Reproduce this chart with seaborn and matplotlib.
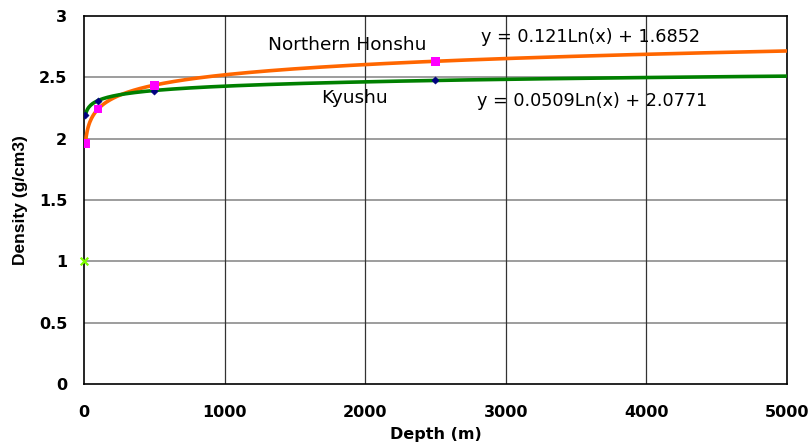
"""
Density versus depth for Northern Honshu and Kyushu with logarithmic trendlines
"""

import numpy as np
import pandas as pd
import matplotlib
matplotlib.use("Agg")
import matplotlib.pyplot as plt
import seaborn as sns

depth = [10, 100, 500, 2500]
honshu_density = [1.964, 2.242, 2.437, 2.632]
kyushu_density = [2.194, 2.311, 2.393, 2.475]

# Water point at the surface
water_depth = [0]
water_density = [1.0]

# Trendline coefficients y = a*Ln(x) + b, as printed on the chart
honshu_a, honshu_b = 0.121, 1.6852
kyushu_a, kyushu_b = 0.0509, 2.0771

x_ticks = [0, 1000, 2000, 3000, 4000, 5000]
y_ticks = [0, 0.5, 1, 1.5, 2, 2.5, 3]


def main():
    sns.set_style("white")
    plt.rcParams["font.family"] = ["DejaVu Sans"]
    plt.rcParams["text.color"] = "black"
    plt.rcParams["axes.labelcolor"] = "black"
    plt.rcParams["xtick.color"] = "black"
    plt.rcParams["ytick.color"] = "black"

    fig = plt.figure(figsize=(8.11, 4.48), dpi=100)
    ax = fig.add_axes([0.1036, 0.143, 0.8665, 0.821])

    # Trendlines from the min depth out to the axis end
    x_fit = np.linspace(depth[0], 5000, 800)
    trend = pd.DataFrame({
        "x": np.concatenate([x_fit, x_fit]),
        "y": np.concatenate([honshu_a * np.log(x_fit) + honshu_b,
                             kyushu_a * np.log(x_fit) + kyushu_b]),
        "site": ["Northern Honshu"] * len(x_fit) + ["Kyushu"] * len(x_fit),
    })
    sns.lineplot(data=trend, x="x", y="y", hue="site",
                 palette={"Northern Honshu": "#FF6600", "Kyushu": "#008000"},
                 linewidth=2.6, legend=False, ax=ax, zorder=3)

    # Data points
    sns.scatterplot(x=depth, y=kyushu_density, marker="D", s=14,
                    color="#000080", edgecolor="#000080", ax=ax, zorder=4)
    sns.scatterplot(x=depth, y=honshu_density, marker="s", s=40,
                    color="#FF00FF", edgecolor="none", ax=ax, zorder=5)
    sns.scatterplot(x=water_depth, y=water_density, marker="x", s=30,
                    color="#7FFF00", linewidth=1.6, ax=ax, zorder=5, clip_on=False)

    ax.set_xlim(0, 5000)
    ax.set_ylim(0, 3)
    ax.set_xticks(x_ticks)
    ax.set_yticks(y_ticks)
    ax.set_xticklabels([str(t) for t in x_ticks])
    ax.set_yticklabels([f"{t:g}" for t in y_ticks])
    ax.tick_params(axis="x", length=0, labelsize=11.5, pad=15)
    ax.tick_params(axis="y", length=0, labelsize=11.5, pad=12)
    for lab in ax.get_xticklabels() + ax.get_yticklabels():
        lab.set_fontweight("bold")

    # Grid: gray horizontals, dark verticals
    for yv in y_ticks[1:-1]:
        ax.axhline(yv, color="#8c8c8c", linewidth=1.2, zorder=1)
    for xv in x_ticks[1:-1]:
        ax.axvline(xv, color="#333333", linewidth=0.9, zorder=1)

    for side in ["left", "bottom", "top", "right"]:
        ax.spines[side].set_visible(True)
        ax.spines[side].set_color("black")
        ax.spines[side].set_linewidth(1.2)

    ax.set_xlabel("Depth (m)", fontsize=11.5, fontweight="bold", labelpad=5)
    ax.set_ylabel("Density (g/cm3)", fontsize=12.5, fontweight="bold", labelpad=8,
                  family=["Liberation Sans", "DejaVu Sans"])

    # Series labels and equations
    ax.text(1873, 2.765, "Northern Honshu", fontsize=13.3, ha="center", va="center")
    ax.text(1923, 2.335, "Kyushu", fontsize=13.3, ha="center", va="center")
    ax.text(2828, 2.83, f"y = {honshu_a}Ln(x) + {honshu_b}", fontsize=12.7,
            va="center")
    ax.text(2799, 2.31, f"y = {kyushu_a}Ln(x) + {kyushu_b}", fontsize=12.7,
            va="center")

    fig.savefig("out.png", dpi=100)


if __name__ == "__main__":
    main()
